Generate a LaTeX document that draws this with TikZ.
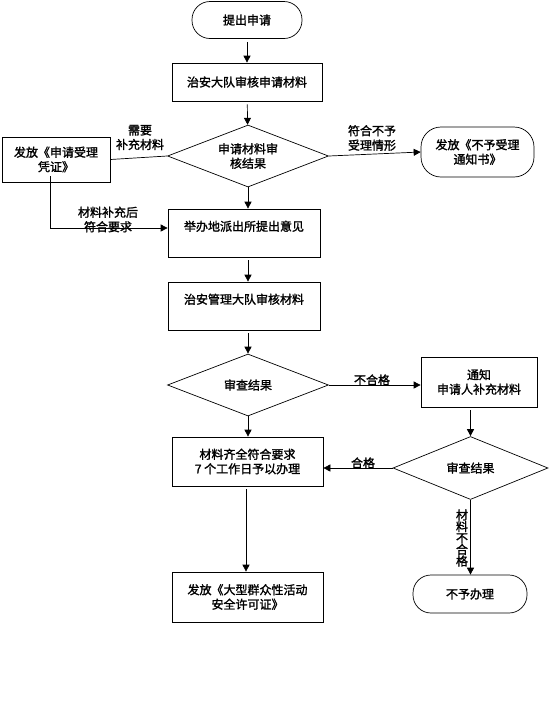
\documentclass[tikz,border=0pt]{standalone}
\usepackage{fontspec}
\setmainfont{Noto Sans CJK SC}
\newfontfamily\cjkb{Noto Sans CJK SC}[FakeBold=1.6]
\usetikzlibrary{shapes.geometric,arrows.meta}
\begin{document}
\begin{tikzpicture}[x=1pt,y=-1pt,
  every node/.style={font=\fontsize{12}{14.5}\selectfont\cjkb, align=center, inner sep=0pt},
  box/.style={draw, line width=0.7pt, minimum width=#1},
  box/.default=150pt,
  term/.style={draw, line width=0.7pt, rounded corners=18pt},
  dec/.style={draw, line width=0.7pt, diamond, aspect=2.6},
  conn/.style={line width=0.7pt, -{Triangle[length=7pt,width=7pt]}, shorten <=3pt},
  plain/.style={line width=0.7pt},
  lbl/.style={font=\fontsize{12}{14.5}\selectfont\cjkb}
]
\useasboundingbox (0,0) rectangle (549,705);

\node[term, minimum width=110pt, minimum height=37pt] (start) at (247,20) {提出申请};
\node[box=150pt, minimum height=38pt] (b1) at (247,82) {治安大队审核申请材料};
\node[dec, minimum width=161pt, minimum height=62pt] (d1) at (248,156) {申请材料审\\核结果};
\node[box=108pt, minimum height=45pt] (left) at (56,159.5) {发放《申请受理\\凭证》};
\node[term, minimum width=113pt, minimum height=50pt, rounded corners=20pt] (right) at (477.5,152) {发放《不予受理\\通知书》};
\node[box=152pt, minimum height=48pt] (b3) at (244,233) {举办地派出所提出意见\\\mbox{}};
\node[box=152pt, minimum height=48pt] (b4) at (244,306) {治安管理大队审核材料\\\mbox{}};
\node[dec, minimum width=161pt, minimum height=62pt] (d2) at (248,385) {审查结果};
\node[box=116pt, minimum height=50pt] (b5) at (479,382) {通知\\申请人补充材料};
\node[dec, minimum width=155pt, minimum height=63pt] (d3) at (470.5,468) {审查结果};
\node[box=151pt, minimum height=49pt] (b6) at (247.5,461.5) {材料齐全符合要求\\7 个工作日予以办理};
\node[box=151pt, minimum height=50pt] (b7) at (247.5,597) {发放《大型群众性活动\\安全许可证》};
\node[term, minimum width=114pt, minimum height=38pt] (end) at (470,594) {不予办理};

\draw[conn] (start) -- (b1);
\draw[conn] (b1) -- (d1);
\draw[plain] (d1.west) -- (left.east);
\draw[conn, shorten <=0pt] (d1.east) -- (right.west);
\draw[conn, shorten <=0pt] (d1.south) -- (b3.north -| d1.south);
\coordinate (lbend) at ([xshift=-6pt,yshift=6pt]left.south);
\coordinate (b3in) at ([yshift=5pt]b3.west);
\draw[conn, shorten <=0pt] (lbend) |- (b3in);
\draw[conn] (b3.south -| d1.south) -- (b4.north -| d1.south);
\draw[conn] (b4.south -| d2.north) -- (d2.north);
\draw[conn, shorten <=0pt] (d2.east) -- (b5.west |- d2.east);
\draw[conn, shorten <=0pt] (d2.south) -- (b6.north -| d2.south);
\draw[conn] (b5.south -| d3.north) -- (d3.north);
\draw[conn, shorten <=0pt] (d3.west) -- (b6.east |- d3.west);
\draw[conn] ([xshift=-1.5pt]b6.south) -- ([xshift=-1.5pt]b7.north);
\draw[conn, shorten <=0pt] (d3.south) -- (end.north -| d3.south);

\node[lbl] (l1) at (140,137.5) {需要\\补充材料};
\node[lbl] (l2) at (372,138) {符合不予\\受理情形};
\node[lbl] (l3) at (108,219.5) {材料补充后\\符合要求};
\node[lbl] (l4) at (372,380) {不合格};
\node[lbl] (l5) at (363,463) {合格};
\node[font=\fontsize{12}{11.5}\selectfont\cjkb] (l6) at (462,538) {材\\料\\不\\合\\格};
\end{tikzpicture}
\end{document}
